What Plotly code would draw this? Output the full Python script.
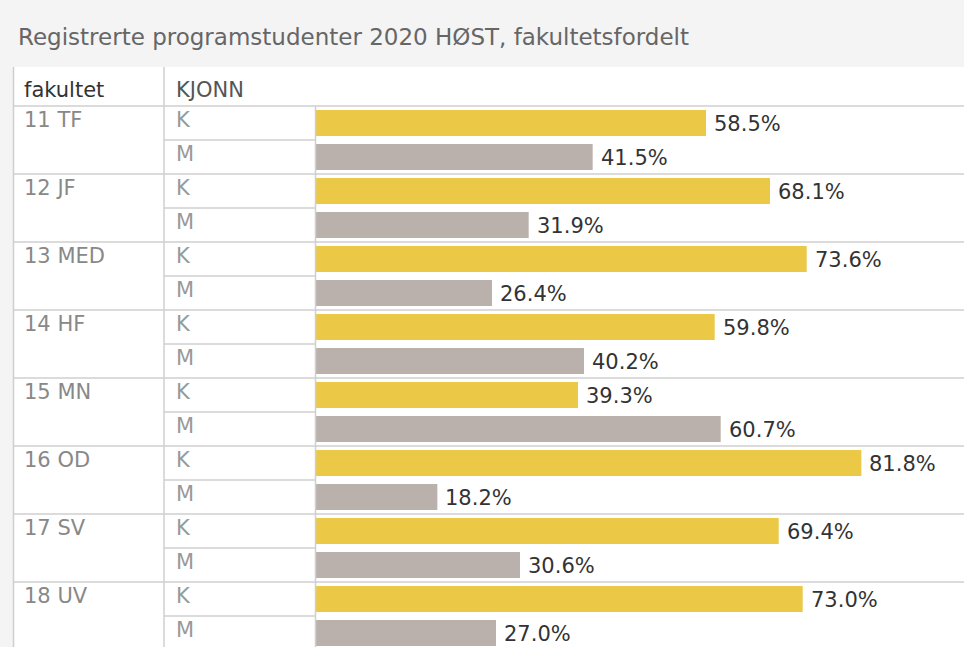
import plotly.graph_objects as go

# ---- data ----
faculties = ["11 TF", "12 JF", "13 MED", "14 HF", "15 MN", "16 OD", "17 SV", "18 UV"]
genders = ["K", "M"]
share_k = [58.5, 68.1, 73.6, 59.8, 39.3, 81.8, 69.4, 73.0]
share_m = [41.5, 31.9, 26.4, 40.2, 60.7, 18.2, 30.6, 27.0]
title_text = "Registrerte programstudenter 2020 HØST, fakultetsfordelt"
header_labels = ["fakultet", "KJONN"]

W, H = 964, 647
ROW_TOP, ROW_H = 106, 34
FONT = "DejaVu Sans"
C_K = "#EBC846"
C_M = "#BAB0AC"
LINE = "#cfcfcf"


def px(x):
    return x / W


def py(y):
    return 1 - y / H


# rows: K at 2g, M at 2g+1
y_k = [2 * g for g in range(len(faculties))]
y_m = [2 * g + 1 for g in range(len(faculties))]

center0 = ROW_TOP + ROW_H / 2
y_top = (0 - center0) / ROW_H
y_bot = (H - center0) / ROW_H

fig = go.Figure()
fig.add_trace(go.Bar(x=share_k, y=y_k, orientation="h", width=0.76,
                     marker=dict(color=C_K, line=dict(width=0)), name="K",
                     hoverinfo="x+y"))
fig.add_trace(go.Bar(x=share_m, y=y_m, orientation="h", width=0.76,
                     marker=dict(color=C_M, line=dict(width=0)), name="M",
                     hoverinfo="x+y"))

shapes = []
# white table background
shapes.append(dict(type="rect", xref="paper", yref="paper", x0=px(13), x1=1,
                   y0=0, y1=py(67), fillcolor="white", line=dict(width=0), layer="below"))
# vertical lines
for x, ytop in [(13.5, 67), (164, 67), (315.5, ROW_TOP)]:
    shapes.append(dict(type="line", xref="paper", yref="paper", x0=px(x), x1=px(x),
                       y0=0, y1=py(ytop), line=dict(color=LINE, width=1.5), layer="above"))
# horizontal group lines
for g in range(len(faculties)):
    shapes.append(dict(type="line", xref="paper", yref="y", x0=px(13.5), x1=1,
                       y0=2 * g - 0.5, y1=2 * g - 0.5, line=dict(color=LINE, width=1.5)))
    shapes.append(dict(type="line", xref="paper", yref="y", x0=px(164), x1=px(315.5),
                       y0=2 * g + 0.5, y1=2 * g + 0.5, line=dict(color=LINE, width=1.5)))

ann = []
ann.append(dict(text=title_text, xref="paper", yref="paper", x=px(16), y=py(37),
                xanchor="left", yanchor="middle", showarrow=False,
                font=dict(family=FONT, size=23, color="#666666")))
ann.append(dict(text=header_labels[0], xref="paper", yref="paper", x=px(22), y=py(90),
                xanchor="left", yanchor="middle", showarrow=False,
                font=dict(family=FONT, size=21, color="#333333")))
ann.append(dict(text=header_labels[1], xref="paper", yref="paper", x=px(174), y=py(90),
                xanchor="left", yanchor="middle", showarrow=False,
                font=dict(family=FONT, size=21, color="#555555")))
for g, fac in enumerate(faculties):
    ann.append(dict(text=fac, xref="paper", yref="y", x=px(22), y=2 * g,
                    xanchor="left", yanchor="middle", yshift=3, showarrow=False,
                    font=dict(family=FONT, size=21, color="#888888")))
    for j, gen in enumerate(genders):
        ann.append(dict(text=gen, xref="paper", yref="y", x=px(174), y=2 * g + j,
                        xanchor="left", yanchor="middle", yshift=3, showarrow=False,
                        font=dict(family=FONT, size=21, color="#999999")))
for vals, ys in [(share_k, y_k), (share_m, y_m)]:
    for v, yy in zip(vals, ys):
        ann.append(dict(text=f"{v:.1f}%", xref="x", yref="y", x=v, y=yy,
                        xanchor="left", yanchor="middle", xshift=6, yshift=-1,
                        showarrow=False,
                        font=dict(family=FONT, size=21, color="#333333")))

fig.update_layout(
    width=W, height=H, margin=dict(l=0, r=0, t=0, b=0),
    paper_bgcolor="#f4f4f4", plot_bgcolor="rgba(0,0,0,0)",
    showlegend=False, barmode="overlay",
    xaxis=dict(domain=[px(316), 1], range=[0, (W - 316) / 6.667],
               showgrid=False, zeroline=False, showticklabels=False, ticks="",
               fixedrange=True),
    yaxis=dict(domain=[0, 1], range=[y_bot, y_top], showgrid=False, zeroline=False,
               showticklabels=False, ticks="", fixedrange=True),
    shapes=shapes, annotations=ann,
)

fig.write_html(
    "out.html",
    config={"displayModeBar": False},
    post_script="document.body.style.margin='0';document.body.style.overflow='hidden';",
)
